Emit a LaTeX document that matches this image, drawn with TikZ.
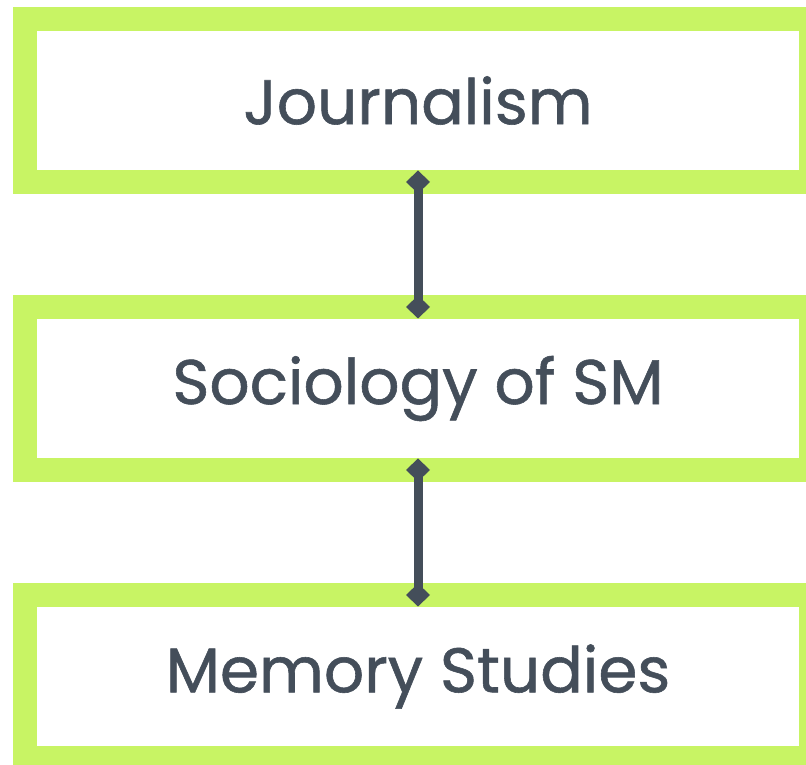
\documentclass[tikz,border=0pt]{standalone}
\usepackage{fontspec}
\setmainfont{Poppins}[UprightFeatures={FakeBold=0.9}]
\usetikzlibrary{positioning,arrows.meta}
\definecolor{lime}{HTML}{C8F464}
\definecolor{slate}{HTML}{444E5A}

\begin{document}
\begin{tikzpicture}[x=1pt,y=1pt,font=\fontsize{63}{72}\selectfont,
  field/.style={draw=lime,line width=24pt,fill=white,text=slate,outer sep=0pt,
    minimum width=786pt,minimum height=163pt,inner sep=0pt},
  link/.style={draw=slate,line width=9pt,
    {Diamond[length=23pt,width=24pt]}-{Diamond[length=23pt,width=24pt]},
    shorten <=-11.5pt,shorten >=-11.5pt}]
\useasboundingbox (0,0) rectangle (806,765);
\node[field] (jr) at (418,664.5) {Journalism};
\node[field] (so) [below=125pt of jr] {Sociology of SM};
\node[field] (ms) [below=125pt of so] {Memory Studies};
\draw[link] (jr) -- (so);
\draw[link] (so) -- (ms);
\end{tikzpicture}
\end{document}
